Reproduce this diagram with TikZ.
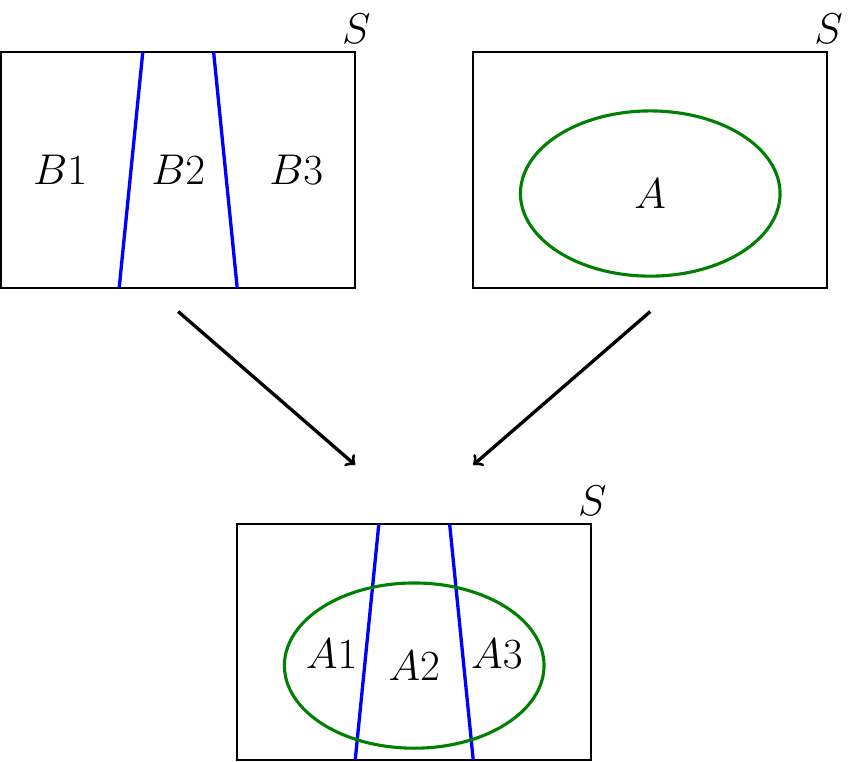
\documentclass[tikz,border=0pt]{standalone}
\usepackage{amsmath}
\usepackage{amssymb}

\begin{document}
\begin{tikzpicture}[line width=0.8pt]

      \useasboundingbox (-0.02,-8.03) rectangle (14.47,4.88);

      \begin{scope}[every path/.style={draw}]
        \path (0,0) rectangle (6,4);
        \path (8,0) rectangle (14,4);
        \path (4,-8) rectangle (10,-4);
      \end{scope}

      \begin{scope}[every path/.style={draw,blue,line width=1.6pt}]
        \path (2.4,4) -- (2,0);
        \path (3.6,4) -- (4,0);
        \path (6.4,-4) -- (6,-8);
        \path (7.6,-4) -- (8,-8);
      \end{scope}

      \begin{scope}[every path/.style={draw,green!50!black,line width=1.5pt}]
        \path (11,1.6) ellipse (2.2 and 1.4);
        \path (7,-6.4) ellipse (2.2 and 1.4);
      \end{scope}

      \begin{scope}[every node/.style={font=\fontsize{20.5}{25}\selectfont}]
        \node (S1) at (6.02,4.4) {$S$};
        \node (S2) at (14.02,4.4) {$S$};
        \node (S3) at (10.02,-3.6) {$S$};
        \node (B1) at (1,2) {$B1$};
        \node (B2) at (3,2) {$B2$};
        \node (B3) at (5,2) {$B3$};
        \node (A) at (11,1.6) {$A$};
        \node (A1) at (5.6,-6.2) {$A1$};
        \node (A2) at (7,-6.4) {$A2$};
        \node (A3) at (8.4,-6.2) {$A3$};
      \end{scope}

      \coordinate (from1) at (3,-0.4);
      \coordinate (from2) at (11,-0.4);
      \coordinate (to1) at (6,-3);
      \coordinate (to2) at (8,-3);

      \begin{scope}[every edge/.style={draw,->,line width=1.6pt}]
        \path (from1) edge (to1);
        \path (from2) edge (to2);
      \end{scope}

\end{tikzpicture}
\end{document}
